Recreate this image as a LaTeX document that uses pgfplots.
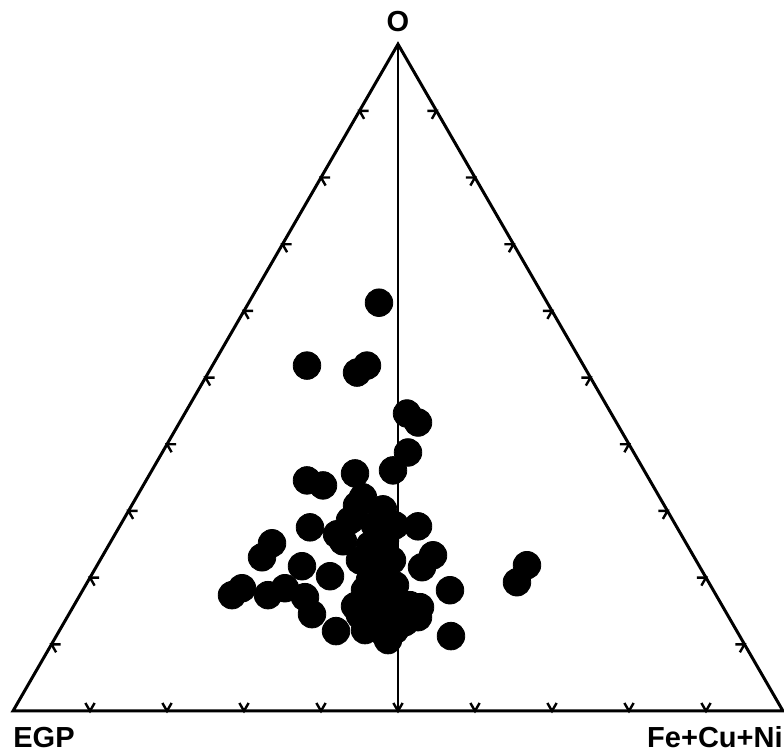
\documentclass[border=0pt]{standalone}
\usepackage{pgfplots}
\pgfplotsset{compat=1.18}
\usepackage{pgfplotstable}
\usepackage{fontspec}
\setmainfont{Liberation Sans}

\pgfplotstableread{
X O
47.53 61.23
38.18 51.80
45.97 51.80
44.68 50.75
51.17 44.61
52.60 43.26
51.30 38.77
49.35 36.08
44.42 35.63
38.18 34.58
40.26 33.83
45.45 32.04
44.68 30.84
48.05 30.24
43.77 28.59
49.61 27.84
38.57 27.54
42.08 26.50
52.60 27.69
42.86 25.45
33.64 25.15
32.34 23.05
37.53 21.71
41.17 20.21
54.55 23.35
53.12 21.56
28.44 17.37
29.74 18.41
33.12 17.37
35.32 18.41
37.92 17.07
38.83 14.52
41.95 11.98
56.75 18.11
56.88 11.23
66.75 21.86
65.45 19.31
44.42 15.72
52.86 15.57
52.60 14.07
47.01 27.84
46.36 24.85
48.31 25.60
47.66 23.35
45.06 22.60
49.22 22.60
47.01 20.36
48.31 20.81
45.71 18.11
47.66 18.11
49.61 18.86
46.62 15.87
48.31 15.12
50.26 15.12
51.56 15.87
45.06 14.37
46.36 13.32
47.66 12.13
49.61 12.13
50.91 13.32
48.70 10.63
45.71 12.13
48.96 17.07
46.36 19.61
}\data

\begin{document}
\begin{tikzpicture}
\useasboundingbox (-6.5pt,-21pt) rectangle (385.5pt,355.5pt);
\begin{axis}[
  at={(0pt,0pt)}, anchor=south west,
  scale only axis, width=385pt, height=333.4pt,
  xmin=0, xmax=100, ymin=0, ymax=86.60,
  axis lines=none, clip=false,
  unbounded coords=jump,
]
% triangle
\addplot[black, line width=1.5pt, line join=miter] coordinates {(0,0) (100,0) (50,86.60) (0,0) (100,0)};
% vertical line
\addplot[black, line width=1.3pt] coordinates {(50,0) (50,86.60)};
% ticks on base
\addplot[black, line width=1.2pt] coordinates {
(9.4,1.04) (10,0) (10.6,1.04) (10,nan)
(19.4,1.04) (20,0) (20.6,1.04) (20,nan)
(29.4,1.04) (30,0) (30.6,1.04) (30,nan)
(39.4,1.04) (40,0) (40.6,1.04) (40,nan)
(49.4,1.04) (50,0) (50.6,1.04) (50,nan)
(59.4,1.04) (60,0) (60.6,1.04) (60,nan)
(69.4,1.04) (70,0) (70.6,1.04) (70,nan)
(79.4,1.04) (80,0) (80.6,1.04) (80,nan)
(89.4,1.04) (90,0) (90.6,1.04)
};
% ticks on left edge
\addplot[black, line width=1.2pt] coordinates {
(6.2,8.66) (5,8.66) (5.6,7.62) (5,nan)
(11.2,17.32) (10,17.32) (10.6,16.28) (10,nan)
(16.2,25.98) (15,25.98) (15.6,24.94) (15,nan)
(21.2,34.64) (20,34.64) (20.6,33.60) (20,nan)
(26.2,43.30) (25,43.30) (25.6,42.26) (25,nan)
(31.2,51.96) (30,51.96) (30.6,50.92) (30,nan)
(36.2,60.62) (35,60.62) (35.6,59.58) (35,nan)
(41.2,69.28) (40,69.28) (40.6,68.24) (40,nan)
(46.2,77.94) (45,77.94) (45.6,76.90)
};
% ticks on right edge
\addplot[black, line width=1.2pt] coordinates {
(93.8,8.66) (95,8.66) (94.4,7.62) (95,nan)
(88.8,17.32) (90,17.32) (89.4,16.28) (90,nan)
(83.8,25.98) (85,25.98) (84.4,24.94) (85,nan)
(78.8,34.64) (80,34.64) (79.4,33.60) (80,nan)
(73.8,43.30) (75,43.30) (74.4,42.26) (75,nan)
(68.8,51.96) (70,51.96) (69.4,50.92) (70,nan)
(63.8,60.62) (65,60.62) (64.4,59.58) (65,nan)
(58.8,69.28) (60,69.28) (59.4,68.24) (60,nan)
(53.8,77.94) (55,77.94) (54.4,76.90)
};
% data
\addplot[only marks, mark=*, mark size=6.9pt, draw=black, fill=black, mark options={line width=0.4pt}]
  table[x=X, y expr=\thisrow{O}*0.8660] {\data};
\node[anchor=base, font=\bfseries\fontsize{14.5pt}{16pt}\selectfont, inner sep=0pt] at (axis cs:50,88.2) {O};
\node[anchor=base west, font=\bfseries\fontsize{14.5pt}{16pt}\selectfont, inner sep=0pt] at (axis cs:0,-4.7) {EGP};
\node[anchor=base east, font=\bfseries\fontsize{14.5pt}{16pt}\selectfont, inner sep=0pt] at (axis cs:100,-4.7) {Fe+Cu+Ni};
\end{axis}
\end{tikzpicture}
\end{document}
